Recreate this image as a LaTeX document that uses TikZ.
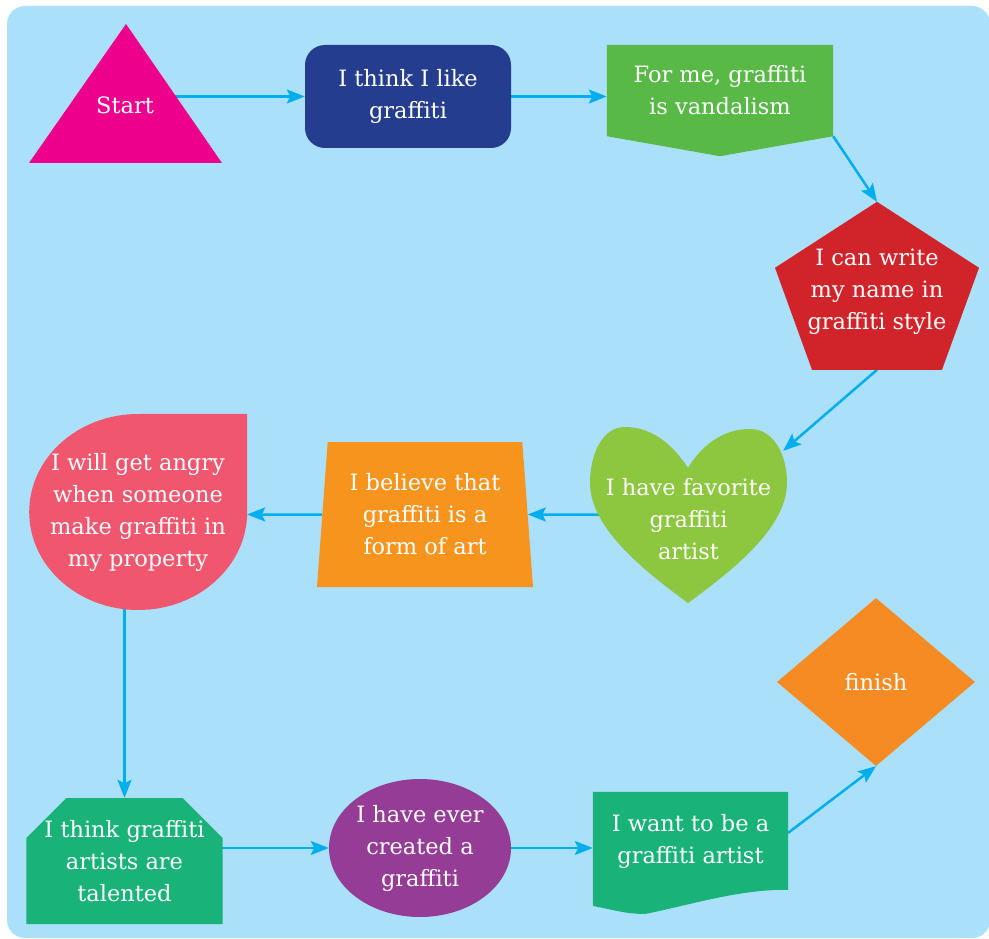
\documentclass[tikz,border=0pt]{standalone}
\usepackage{fontspec}
\setmainfont{DejaVu Serif}
\usetikzlibrary{arrows.meta,shapes.geometric,shapes.misc,calc}
\definecolor{cielo}{HTML}{AAE0FA}
\definecolor{celeste}{HTML}{00AEEF}
\definecolor{fucsia}{HTML}{EC008C}
\definecolor{blu}{HTML}{253D8E}
\definecolor{verde}{HTML}{58B947}
\definecolor{rosso}{HTML}{D1242A}
\definecolor{verdechiaro}{HTML}{8DC63F}
\definecolor{arancio}{HTML}{F7941D}
\definecolor{rosa}{HTML}{F1566F}
\definecolor{smeraldo}{HTML}{19B278}
\definecolor{viola}{HTML}{943C96}
\definecolor{arancione}{HTML}{F68B23}
\pgfdeclarelayer{fondo}
\pgfdeclarelayer{frecce}
\pgfdeclarelayer{forme}
\pgfsetlayers{fondo,frecce,forme,main}

\begin{document}
\begin{tikzpicture}[x=1pt,y=-1pt,
    testo/.style={text=white, align=center, font=\fontsize{22.5}{32}\selectfont, inner sep=0pt},
    freccia/.style={draw=celeste, line width=2.5pt, -{Stealth[length=18pt,width=14pt,inset=3.5pt]}}]
        \useasboundingbox (0,0) rectangle (989,939);
        % Caselle
        \node[testo] (start) at (125,105) {Start};
        \node[testo, rounded corners=20pt, fill=blu, minimum width=206pt, minimum height=103pt]
        (think) at (408,96.5) {I think I like\\graffiti};
        \node[testo, minimum width=226pt, minimum height=91pt] (ban) at (720,90.5) {For me, graffiti\\is vandalism};
        \node[testo, minimum width=204pt, minimum height=180pt] (pent) at (877,292) {I can write\\my name in\\graffiti style};
        \node[testo, minimum width=197pt, minimum height=176pt] (heart) at (688.5,519) {I have favorite\\graffiti\\artist};
        \node[testo, trapezium, trapezium left angle=82.5, trapezium right angle=82.5, trapezium stretches body,
            fill=arancio, minimum width=216pt, minimum height=145pt] (trap) at (425,514.5) {I believe that\\graffiti is a\\form of art};
        \node[testo, minimum width=218pt, minimum height=196pt] (drop) at (138,512) {I will get angry\\when someone\\make graffiti in\\my property};
        \node[testo, chamfered rectangle, chamfered rectangle corners={north west,north east},
            chamfered rectangle xsep=18pt, chamfered rectangle ysep=22pt,
            fill=smeraldo, minimum width=195pt, minimum height=126pt] (oct) at (124.5,861) {I think graffiti\\artists are\\talented};
        \node[testo, ellipse, fill=viola, minimum width=182pt, minimum height=138pt] (ell) at (420,848) {I have ever\\created a\\graffiti};
        \node[testo, minimum width=195pt, minimum height=98pt] (doc) at (690.5,841) {I want to be a\\graffiti artist};
        \node[testo, diamond, fill=arancione, minimum width=198pt, minimum height=168pt] (fine) at (876,682) {finish};
        % Sfondo
        \begin{pgfonlayer}{fondo}
            \fill[cielo, rounded corners=18pt] (7,6) rectangle (990,938);
        \end{pgfonlayer}
        % Forme disegnate a mano
        \begin{pgfonlayer}{forme}
            \fill[fucsia] (126,24) -- (222,163) -- (29,163) -- cycle;
            \fill[verde] (ban.north west) -- (ban.north east) -- (ban.south east)
            -- ($(ban.south)+(0,20)$) -- (ban.south west) -- cycle;
            \fill[rosso] (pent.north) -- ($(pent.north)+(102,66)$) -- ($(pent.north)+(65,168)$)
            -- ($(pent.north)+(-65,168)$) -- ($(pent.north)+(-102,66)$) -- cycle;
            \fill[verdechiaro] (688,468) .. controls (670,440) and (648,427) .. (625,427)
            .. controls (602,427) and (590,455) .. (590,483)
            .. controls (590,530) and (650,575) .. (688,603)
            .. controls (726,575) and (787,530) .. (787,483)
            .. controls (787,455) and (774,429) .. (750,429)
            .. controls (728,429) and (705,440) .. (688,468) -- cycle;
            \fill[rosa] (drop.north east) -- (drop.east)
            arc[start angle=0, end angle=90, x radius=109, y radius=98]
            arc[start angle=90, end angle=270, x radius=109, y radius=98] -- cycle;
            \fill[smeraldo] (doc.north west) -- (doc.north east) -- ($(doc.north east)+(0,98)$)
            .. controls (740,889) and (690,905) .. (645,914)
            .. controls (625,914) and (610,909) .. (593,906) -- cycle;
        \end{pgfonlayer}
        % Frecce
        \begin{pgfonlayer}{frecce}
            \draw[freccia] (start |- think) -- (think);
            \draw[freccia] (think) -- (think -| ban.west);
            \draw[freccia] (ban.south east) -- (pent.north);
            \draw[freccia] ($(pent.north)+(0,168)$) -- ($(heart.north east)+(-4,20)$);
            \draw[freccia] (heart.center |- trap) -- (trap);
            \draw[freccia] (trap) -- (trap -| drop.east);
            \draw[freccia] (drop.center -| oct.north) -- (oct.north);
            \draw[freccia] (oct |- ell) -- (ell);
            \draw[freccia] (ell) -- (ell -| doc.west);
            \draw[freccia] ($(doc.north east)+(0,41)$) -- (fine.south);
        \end{pgfonlayer}
\end{tikzpicture}
\end{document}
